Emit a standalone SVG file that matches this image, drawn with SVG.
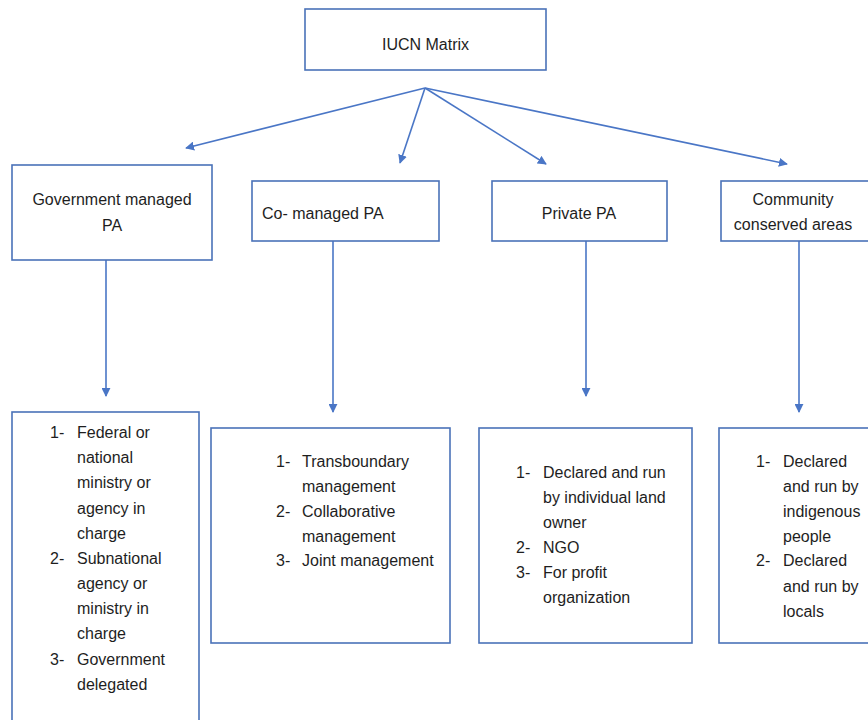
<svg xmlns="http://www.w3.org/2000/svg" width="868" height="720" viewBox="0 0 868 720">
<style>
.box{fill:#fff;stroke:#4a72b8;stroke-width:1.6}
.t{font-family:"Liberation Sans",Arial,sans-serif;font-size:16px;fill:#1e1e1e}
.c{text-anchor:middle}
.ln{stroke:#4a76c6;stroke-width:1.6;fill:none;marker-end:url(#ah)}
</style>
<defs>
<marker id="ah" viewBox="0 0 10 10" refX="9" refY="5" markerWidth="9" markerHeight="9" markerUnits="userSpaceOnUse" orient="auto">
<path d="M0,0 L10,5 L0,10 Z" fill="#4a76c6"/>
</marker>
</defs>
<rect width="868" height="720" fill="#fff"/>
<g id="connectors">
<line class="ln" x1="425" y1="88" x2="186" y2="148"/>
<line class="ln" x1="425" y1="88" x2="400" y2="163"/>
<line class="ln" x1="425" y1="88" x2="546" y2="164"/>
<line class="ln" x1="425" y1="88" x2="787" y2="164"/>
<line class="ln" x1="106" y1="260" x2="106" y2="396"/>
<line class="ln" x1="333" y1="241" x2="333" y2="412"/>
<line class="ln" x1="586" y1="241" x2="586" y2="396"/>
<line class="ln" x1="799" y1="241" x2="799" y2="412"/>
</g>
<g id="iucn">
<rect class="box" x="305" y="9" width="241" height="61"/>
<text class="t c" x="425.5" y="50">IUCN Matrix</text>
</g>
<g id="gov">
<rect class="box" x="12" y="165" width="200" height="95"/>
<text class="t c" x="112" y="205">Government managed</text>
<text class="t c" x="112" y="231">PA</text>
</g>
<g id="comanaged">
<rect class="box" x="252" y="181" width="187" height="60"/>
<text class="t" x="262" y="219">Co- managed PA</text>
</g>
<g id="private">
<rect class="box" x="492" y="181" width="175" height="60"/>
<text class="t c" x="579" y="219">Private PA</text>
</g>
<g id="community">
<rect class="box" x="721" y="181" width="160" height="60"/>
<text class="t c" x="793" y="205">Community</text>
<text class="t c" x="793" y="230">conserved areas</text>
</g>
<g id="gov-list">
<rect class="box" x="12" y="412" width="187" height="320"/>
<g class="t">
<text x="50" y="438">1-</text><text x="77" y="438">Federal or</text>
<text x="77" y="463">national</text>
<text x="77" y="488">ministry or</text>
<text x="77" y="514">agency in</text>
<text x="77" y="539">charge</text>
<text x="50" y="564">2-</text><text x="77" y="564">Subnational</text>
<text x="77" y="589">agency or</text>
<text x="77" y="614">ministry in</text>
<text x="77" y="639">charge</text>
<text x="50" y="665">3-</text><text x="77" y="665">Government</text>
<text x="77" y="690">delegated</text>
</g>
</g>
<g id="co-list">
<rect class="box" x="211" y="428" width="239" height="215"/>
<g class="t">
<text x="276" y="467">1-</text><text x="302" y="467">Transboundary</text>
<text x="302" y="492">management</text>
<text x="276" y="517">2-</text><text x="302" y="517">Collaborative</text>
<text x="302" y="542">management</text>
<text x="276" y="566">3-</text><text x="302" y="566">Joint management</text>
</g>
</g>
<g id="private-list">
<rect class="box" x="479" y="428" width="213" height="215"/>
<g class="t">
<text x="516" y="478">1-</text><text x="543" y="478">Declared and run</text>
<text x="543" y="503">by individual land</text>
<text x="543" y="528">owner</text>
<text x="516" y="553">2-</text><text x="543" y="553">NGO</text>
<text x="516" y="578">3-</text><text x="543" y="578">For profit</text>
<text x="543" y="603">organization</text>
</g>
</g>
<g id="community-list">
<rect class="box" x="719" y="428" width="160" height="215"/>
<g class="t">
<text x="756" y="467">1-</text><text x="783" y="467">Declared</text>
<text x="783" y="492">and run by</text>
<text x="783" y="517">indigenous</text>
<text x="783" y="542">people</text>
<text x="756" y="566">2-</text><text x="783" y="566">Declared</text>
<text x="783" y="592">and run by</text>
<text x="783" y="617">locals</text>
</g>
</g>
</svg>
